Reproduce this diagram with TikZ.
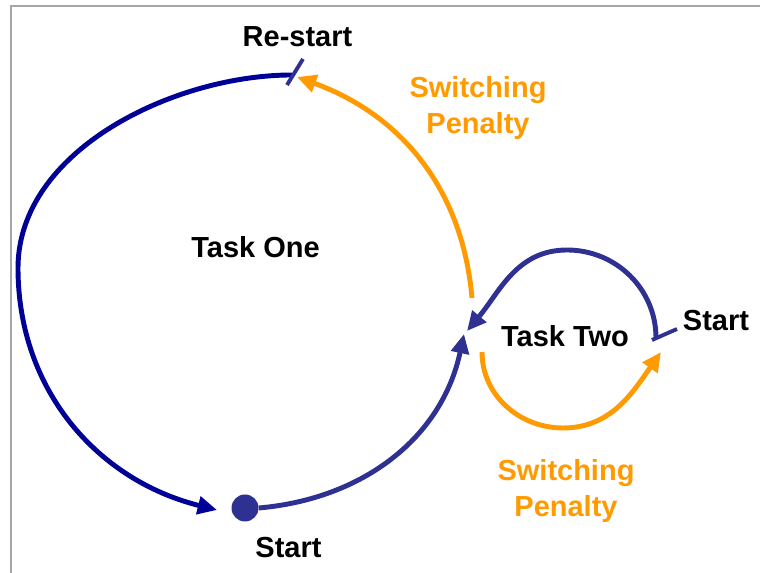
\documentclass[tikz,border=0pt]{standalone}
\usepackage{fontspec}
\setmainfont{Liberation Sans}
\usetikzlibrary{arrows.meta}
\definecolor{navy}{RGB}{0,0,150}
\definecolor{indigo}{RGB}{46,49,146}
\definecolor{switchorange}{RGB}{255,155,0}
\begin{document}
\begin{tikzpicture}[x=0.02cm,y=0.02cm,
		lbl/.style={font=\fontsize{16.5}{20.4}\selectfont\bfseries},
		arrowed/.style={-{Triangle[length=11pt,width=10pt]}},
		loopline/.style={line width=2.8pt}]
		\path[use as bounding box] (0,0) rectangle (760,573);
		\draw[gray!70, line width=1.5pt] (11,0) -- (11,567) -- (760,567);
		
		\coordinate (restart) at (292,498);
		\coordinate (west) at (18,305);
		\coordinate (startend) at (217,63);
		\coordinate (join) at (464,239);
		\coordinate (orangefoot) at (472,275);
		\coordinate (restarttip) at (297,496);
		\coordinate (twotop) at (567,323);
		\coordinate (twostart) at (656,235);
		\coordinate (twotip) at (467,242);
		\coordinate (twofoot) at (482,221);
		\coordinate (twobottom) at (563,145);
		\coordinate (twoend) at (661,221);
		\node[circle, fill=indigo, minimum size=0.54cm, inner sep=0pt] (startdot) at (245,65) {};
		
		\node[lbl, anchor=base] (restartlbl) at (297.5,526) {Re-start};
		\node[lbl, anchor=base] (taskone) at (255.5,315) {Task One};
		\node[lbl, anchor=base] (tasktwo) at (565,226) {Task Two};
		\node[lbl, anchor=base] (startright) at (716,242) {Start};
		\node[lbl, anchor=base] (startbottom) at (288.5,15) {Start};
		\node[lbl, switchorange, align=center] (penaltytop) at (478,465) {Switching\\Penalty};
		\node[lbl, switchorange, align=center] (penaltybottom) at (566,82) {Switching\\Penalty};
		
		\draw[loopline, navy, arrowed] (restart) to[out=180,in=90,looseness=0.9] (west) to[out=270,in=166] (startend);
		\draw[loopline, indigo, arrowed] (startdot.east) to[out=5,in=258] (join);
		\draw[loopline, switchorange, arrowed] (orangefoot) to[out=95,in=340] (restarttip);
		\draw[loopline, indigo, arrowed] (twostart) to[out=90,in=0] (twotop) to[out=180,in=50] (twotip);
		\draw[loopline, switchorange, arrowed] (twofoot) to[out=270,in=180] (twobottom) to[out=0,in=235] (twoend);
		
		\draw[indigo, line width=2.2pt] (restart) ++(-5,-10) -- ++(16,26);
		\draw[indigo, line width=2.2pt] (twostart) ++(-4,-2) -- ++(25,11);
	\end{tikzpicture}
\end{document}
